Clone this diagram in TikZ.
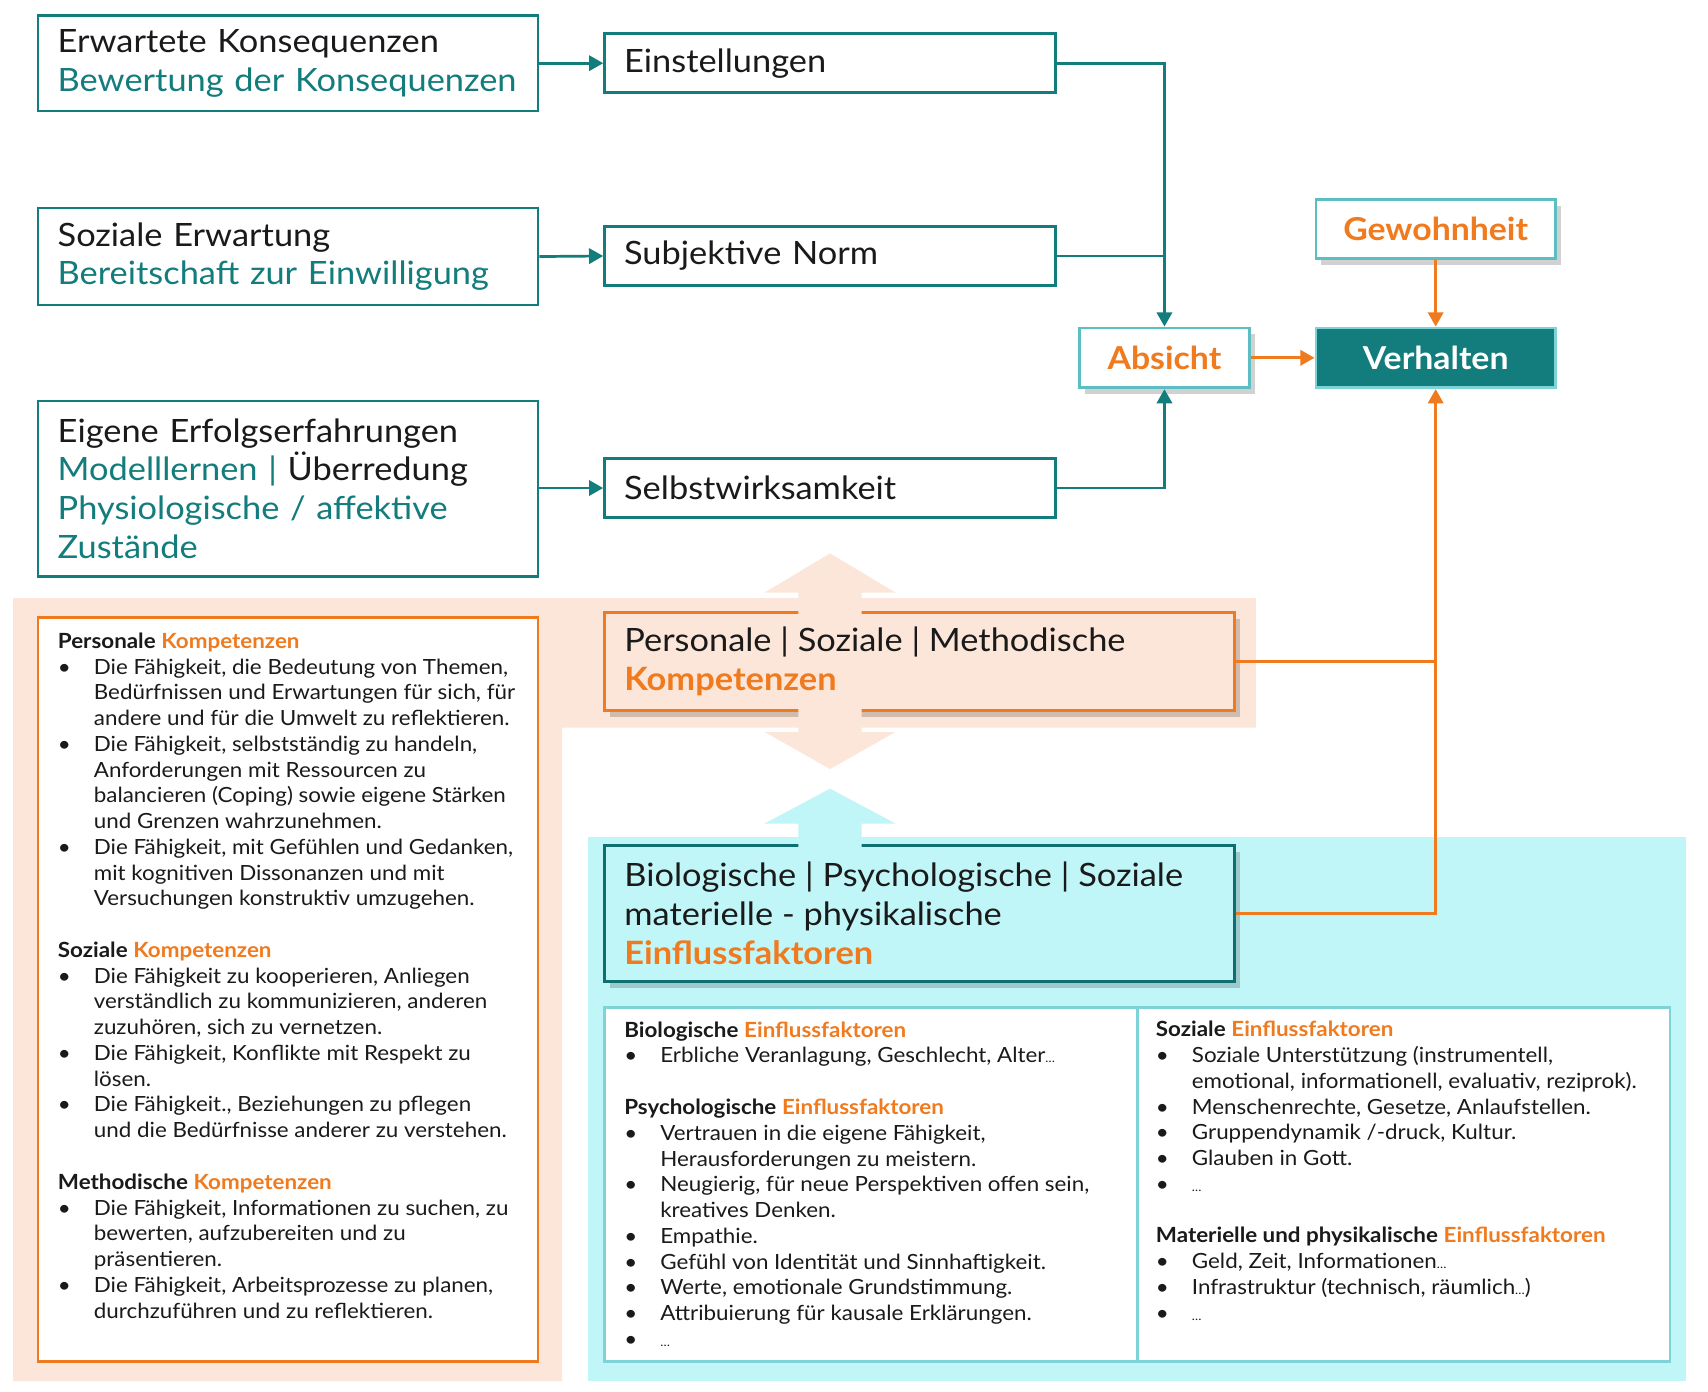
\documentclass[tikz,border=0pt]{standalone}
\usepackage{fontspec}
\setmainfont{Lato}[FakeStretch=1.07]
\usetikzlibrary{arrows.meta,shadows}
\definecolor{tealD}{HTML}{137C7C}
\definecolor{tealB}{HTML}{0E6E70}
\definecolor{tealL}{HTML}{5BBEC2}
\definecolor{tealLL}{HTML}{7DD3D8}
\definecolor{orangeC}{HTML}{F07A1E}
\definecolor{peach}{HTML}{FCE6D9}
\definecolor{cyanbg}{HTML}{C0F6F8}
\definecolor{txt}{HTML}{1A1A1A}
\newcommand{\mybul}{\makebox[33pt][l]{•}}
\newcommand{\myind}{\hspace*{33pt}}
\newcommand{\myhd}[2]{\textbf{#1} \textcolor{orangeC}{\textbf{#2}}}
\newcommand{\sdots}{{\fontsize{11}{11}\selectfont …}}
\begin{document}
\begin{tikzpicture}[x=1pt,y=-1pt,
  bigtxt/.style={font=\fontsize{29.5}{35.5}\selectfont, text=txt},
  smalltxt/.style={font=\fontsize{19.2}{23.65}\selectfont, text=txt},
  boldtxt/.style={font=\fontsize{29}{34}\selectfont\bfseries},
  tbox/.style={draw=tealD, line width=2.5pt, fill=white, inner xsep=18pt, inner ysep=0pt, align=left, bigtxt},
  shbox/.style={drop shadow={shadow xshift=5pt, shadow yshift=-6pt, fill=black, opacity=0.18}},
  tarrow/.style={draw=tealD, line width=2.5pt, -{Triangle[length=13pt,width=14pt]}},
  tline/.style={draw=tealD, line width=2.5pt},
  oarrow/.style={draw=orangeC, line width=2.5pt, -{Triangle[length=13pt,width=14pt]}},
  oline/.style={draw=orangeC, line width=2.5pt},
]
\useasboundingbox (0,0) rectangle (1568,1277);
\fill[white] (0,0) rectangle (1568,1277);

% backgrounds
\fill[peach] (12,549) -- (1153,549) -- (1153,668) -- (516,668) -- (516,1268) -- (12,1268) -- cycle;
\fill[cyanbg] (540,768) rectangle (1548,1268);

% top left boxes
\node[tbox, minimum width=459pt, minimum height=88pt, text width=423pt] (erw) at (264.5,58)
  {\raisebox{-3pt}{Erwartete Konsequenzen}\\\raisebox{-3pt}{\textcolor{tealD}{Bewertung der Konsequenzen}}};
\node[tbox, minimum width=459pt, minimum height=89pt, text width=423pt] (soz) at (264.5,235.5)
  {\raisebox{-3pt}{Soziale Erwartung}\\\raisebox{-3pt}{\textcolor{tealD}{Bereitschaft zur Einwilligung}}};
\node[tbox, minimum width=459pt, minimum height=161pt, text width=423pt] (eig) at (264.5,448.5)
  {Eigene Erfolgserfahrungen\\\textcolor{tealD}{Modelllernen |} Überredung\\\textcolor{tealD}{Physiologische / affektive}\\\textcolor{tealD}{Zustände}};

% middle boxes
\node[tbox, minimum width=414pt, minimum height=54pt, text width=378pt] (einst) at (762,58) {\raisebox{-2pt}{Einstellungen}};
\node[tbox, minimum width=414pt, minimum height=54pt, text width=378pt] (norm) at (762,235) {\raisebox{-3pt}{Subjektive Norm}};
\node[tbox, minimum width=414pt, minimum height=54pt, text width=378pt] (selbst) at (762,448) {Selbstwirksamkeit};

% right boxes
\node[draw=tealL, line width=2.5pt, fill=white, shbox, minimum width=156pt, minimum height=55pt, boldtxt, text=orangeC] (absicht) at (1069,328.5) {Absicht};
\node[draw=tealLL, line width=2.5pt, fill=tealD, minimum width=220pt, minimum height=55pt, boldtxt, text=white] (verh) at (1318,328.5) {Verhalten};
\node[draw=tealL, line width=2.5pt, fill=white, shbox, minimum width=220pt, minimum height=54pt, boldtxt, text=orangeC] (gew) at (1318,210) {Gewohnheit};

% teal connectors
\draw[tarrow] (erw.east) -- (einst.west);
\draw[tarrow] (soz.east) -- (norm.west);
\draw[tarrow] (eig.east |- selbst.west) -- (selbst.west);
\draw[tarrow] (einst.east) -| (absicht.north);
\draw[tline] (norm.east) -- (norm.east -| absicht.north);
\draw[tarrow] (selbst.east) -| (absicht.south);

% orange connectors top
\draw[oarrow] (absicht.east) -- (verh.west);
\draw[oarrow] (gew.south) -- (verh.north);

% left list box
\node[draw=orangeC, line width=2.5pt, fill=white, minimum width=459pt, minimum height=683pt] (llist) at (264.5,908.5) {};
\node[smalltxt, anchor=base west, align=left, inner sep=0pt] (lltext) at (53,1210) {%
\myhd{Personale}{Kompetenzen}\\
\mybul Die Fähigkeit, die Bedeutung von Themen,\\
\myind Bedürfnissen und Erwartungen für sich, für\\
\myind andere und für die Umwelt zu reflektieren.\\
\mybul Die Fähigkeit, selbstständig zu handeln,\\
\myind Anforderungen mit Ressourcen zu\\
\myind balancieren (Coping) sowie eigene Stärken\\
\myind und Grenzen wahrzunehmen.\\
\mybul Die Fähigkeit, mit Gefühlen und Gedanken,\\
\myind mit kognitiven Dissonanzen und mit\\
\myind Versuchungen konstruktiv umzugehen.\\[23.65pt]
\myhd{Soziale}{Kompetenzen}\\
\mybul Die Fähigkeit zu kooperieren, Anliegen\\
\myind verständlich zu kommunizieren, anderen\\
\myind zuzuhören, sich zu vernetzen.\\
\mybul Die Fähigkeit, Konflikte mit Respekt zu\\
\myind lösen.\\
\mybul Die Fähigkeit., Beziehungen zu pflegen\\
\myind und die Bedürfnisse anderer zu verstehen.\\[23.65pt]
\myhd{Methodische}{Kompetenzen}\\
\mybul Die Fähigkeit, Informationen zu suchen, zu\\
\myind bewerten, aufzubereiten und zu\\
\myind präsentieren.\\
\mybul Die Fähigkeit, Arbeitsprozesse zu planen,\\
\myind durchzuführen und zu reflektieren.};

% Kompetenzen box + double arrow
\node[draw=orangeC, line width=2.5pt, fill=peach, shbox, minimum width=578pt, minimum height=90pt] (komp) at (844,607) {};
\fill[peach] (762,508) -- (822,544) -- (791,544) -- (791,672) -- (822,672) -- (762,706) -- (702,672) -- (733,672) -- (733,544) -- (702,544) -- cycle;
\node[bigtxt, align=left, anchor=west, inner sep=0pt] (kompt) at (573,607)
  {Personale | Soziale | Methodische\\\textcolor{orangeC}{\textbf{Kompetenzen}}};

% Einflussfaktoren box + up arrow
\node[draw=tealB, line width=2.5pt, fill=cyanbg, shbox, minimum width=578pt, minimum height=125pt] (einfl) at (844,838.5) {};
\fill[cyanbg] (762,724) -- (822,756) -- (791,756) -- (791,782) -- (733,782) -- (733,756) -- (702,756) -- cycle;
\node[bigtxt, align=left, anchor=west, inner sep=0pt] (einflt) at (573,838.5)
  {Biologische | Psychologische | Soziale\\materielle - physikalische\\\textcolor{orangeC}{\textbf{Einflussfaktoren}}};

% orange connectors bottom
\draw[oarrow] (komp.east) -| (verh.south);
\draw[oline] (einfl.east) -| (komp.east -| verh.south);

% lower two-column box
\node[draw=tealLL, line width=2.5pt, fill=white, minimum width=978pt, minimum height=325pt] (low) at (1044,1087.5) {};
\draw[draw=tealLL, line width=2.5pt] (low.north) -- (low.south);
\node[smalltxt, anchor=base west, align=left, inner sep=0pt] (lowl) at (573,1236) {%
\myhd{Biologische}{Einflussfaktoren}\\
\mybul Erbliche Veranlagung, Geschlecht, Alter\sdots\\[23.65pt]
\myhd{Psychologische}{Einflussfaktoren}\\
\mybul Vertrauen in die eigene Fähigkeit,\\
\myind Herausforderungen zu meistern.\\
\mybul Neugierig, für neue Perspektiven offen sein,\\
\myind kreatives Denken.\\
\mybul Empathie.\\
\mybul Gefühl von Identität und Sinnhaftigkeit.\\
\mybul Werte, emotionale Grundstimmung.\\
\mybul Attribuierung für kausale Erklärungen.\\
\mybul \sdots};
\node[smalltxt, anchor=base west, align=left, inner sep=0pt] (lowr) at (1061,1212) {%
\myhd{Soziale}{Einflussfaktoren}\\
\mybul Soziale Unterstützung (instrumentell,\\
\myind emotional, informationell, evaluativ, reziprok).\\
\mybul Menschenrechte, Gesetze, Anlaufstellen.\\
\mybul Gruppendynamik /-druck, Kultur.\\
\mybul Glauben in Gott.\\
\mybul \sdots\\[23.65pt]
\myhd{Materielle und physikalische}{Einflussfaktoren}\\
\mybul Geld, Zeit, Informationen\sdots\\
\mybul Infrastruktur (technisch, räumlich\sdots)\\
\mybul \sdots};
\end{tikzpicture}
\end{document}
